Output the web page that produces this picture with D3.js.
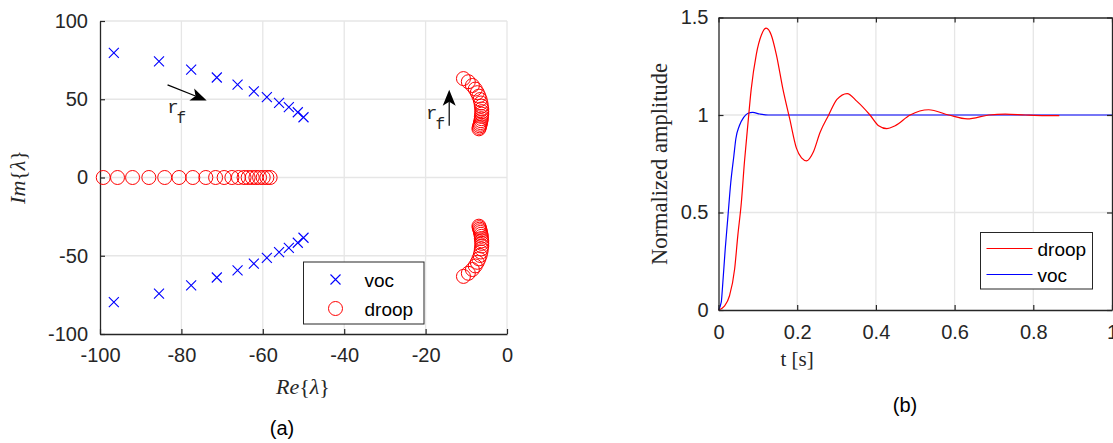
<!DOCTYPE html>
<html>
<head>
<meta charset="utf-8">
<script src="https://cdn.jsdelivr.net/npm/d3@7"></script>
<style>
	body { margin: 0; background: #fff; }
	svg { display: block; }
	.tick text { font-family: "Liberation Sans", Arial, sans-serif; font-size: 20px; fill: #262626; }
</style>
</head>
<body>
<div id="chartDiv"></div>
<script>
// ---- data (a): eigenvalues ----
var vocRe = [-96.6, -85.5, -77.6, -71.3, -66.2, -62.2, -59.0, -56.0, -53.6, -51.4, -50.0];
var vocIm = [79.7, 74.2, 69.0, 63.9, 59.4, 55.1, 51.3, 47.7, 44.9, 41.7, 38.5];

var droopRealRe = [-99.2, -95.7, -92.0, -88.0, -84.1, -80.6, -77.2, -74.0, -71.6, -69.5,
	-67.6, -66.0, -64.6, -63.6, -62.6, -61.7, -60.8, -59.9, -59.0, -58.2];

var droopCplxRe = [-10.7, -9.5, -8.5, -7.8, -7.3, -6.9, -6.6, -6.4, -6.3, -6.2,
	-6.2, -6.2, -6.3, -6.3, -6.4, -6.5, -6.6, -6.7, -6.8, -6.9];
var droopCplxIm = [63.2, 61.2, 58.8, 56.5, 54.2, 52.0, 49.8, 47.6, 45.6, 43.8,
	42.1, 40.5, 39.0, 37.6, 36.3, 35.1, 34.0, 33.0, 32.0, 31.1];

var xTicksA = [-100, -80, -60, -40, -20, 0];
var yTicksA = [-100, -50, 0, 50, 100];

// ---- data (b): step responses ----
var droopT = [0, 0.015, 0.028, 0.041, 0.049, 0.058, 0.066, 0.075, 0.083, 0.096, 0.109, 0.121,
	0.134, 0.147, 0.164, 0.181, 0.198, 0.211, 0.224, 0.241, 0.258, 0.28, 0.301, 0.327, 0.352,
	0.385, 0.407, 0.428, 0.449, 0.487, 0.534, 0.585, 0.632, 0.687, 0.729, 0.78, 0.83, 0.866];
var droopY = [0, 0.02, 0.073, 0.21, 0.38, 0.55, 0.76, 0.96, 1.13, 1.31, 1.41, 1.445,
	1.41, 1.31, 1.13, 0.98, 0.83, 0.78, 0.765, 0.81, 0.91, 1.0, 1.08, 1.11, 1.07,
	1.0, 0.945, 0.93, 0.945, 1.0, 1.027, 1.0, 0.98, 1.0, 1.005, 1.0, 0.997, 0.997];

var vocT = [0, 0.007, 0.011, 0.017, 0.024, 0.031, 0.039, 0.044, 0.053, 0.064, 0.074, 0.087, 0.105, 0.126, 1.0];
var vocY = [0, 0.04, 0.14, 0.31, 0.48, 0.65, 0.79, 0.877, 0.945, 0.988, 1.008, 1.013, 1.005, 1.0, 1.0];

var xTicksB = [0, 0.2, 0.4, 0.6, 0.8, 1];
var yTicksB = [0, 0.5, 1, 1.5];

var axisColor = "#262626";
var gridColor = "#e6e6e6";
var sans = "'Liberation Sans', Arial, sans-serif";
var serif = "'Liberation Serif', 'Times New Roman', serif";
var mono = "'Liberation Mono', 'Courier New', monospace";

// plain hyphen minus like the original
var plain = function(d) { return String(d); };

var svg = d3.select("#chartDiv").append("svg")
	.attr("width", 1113)
	.attr("height", 443);

svg.append("rect").attr("width", 1113).attr("height", 443).attr("fill", "#fff");

// ================= (a) =================
var xA = d3.scaleLinear().domain([-100, 0]).range([100, 507]);
var yA = d3.scaleLinear().domain([-100, 100]).range([334, 21]);

var gA = svg.append("g");

// grid
gA.selectAll(".vgrid").data(xTicksA.slice(1)).enter().append("line")
	.attr("x1", d => xA(d)).attr("x2", d => xA(d))
	.attr("y1", yA(-100)).attr("y2", yA(100))
	.attr("stroke", gridColor).attr("stroke-width", 1.3);
gA.selectAll(".hgrid").data(yTicksA.slice(1)).enter().append("line")
	.attr("x1", xA(-100)).attr("x2", xA(0))
	.attr("y1", d => yA(d)).attr("y2", d => yA(d))
	.attr("stroke", gridColor).attr("stroke-width", 1.3);

// axes
var xAxisA = d3.axisBottom(xA).tickValues(xTicksA).tickFormat(plain).tickSizeInner(-5).tickSizeOuter(0).tickPadding(14);
var yAxisA = d3.axisLeft(yA).tickValues(yTicksA).tickFormat(plain).tickSizeInner(-5).tickSizeOuter(0).tickPadding(12);

gA.append("g").attr("transform", "translate(0," + yA(-100) + ")").call(xAxisA);
gA.append("g").attr("transform", "translate(" + xA(-100) + ",0)").call(yAxisA);

// droop circles
var droopPts = [];
droopRealRe.forEach(function(r) { droopPts.push([r, 0]); });
droopCplxRe.forEach(function(r, i) {
	droopPts.push([r, droopCplxIm[i]]);
	droopPts.push([r, -droopCplxIm[i]]);
});
gA.selectAll(".droop").data(droopPts).enter().append("circle")
	.attr("cx", d => xA(d[0]))
	.attr("cy", d => yA(d[1]))
	.attr("r", 7)
	.attr("fill", "none")
	.attr("stroke", "#ff0000")
	.attr("stroke-width", 1);

// voc crosses
var vocPts = [];
vocRe.forEach(function(r, i) {
	vocPts.push([r, vocIm[i]]);
	vocPts.push([r, -vocIm[i]]);
});
var cross = function(sel, s) {
	sel.append("path")
		.attr("d", "M" + (-s) + "," + (-s) + "L" + s + "," + s + "M" + (-s) + "," + s + "L" + s + "," + (-s))
		.attr("stroke", "#0000ff")
		.attr("stroke-width", 1.1)
		.attr("fill", "none");
};
gA.selectAll(".voc").data(vocPts).enter().append("g")
	.attr("transform", d => "translate(" + xA(d[0]) + "," + yA(d[1]) + ")")
	.each(function() { cross(d3.select(this), 5); });

// arrows (annotation)
function arrow(g, x0, y0, x1, y1) {
	var dx = x1 - x0, dy = y1 - y0;
	var len = Math.sqrt(dx * dx + dy * dy);
	var ux = dx / len, uy = dy / len;
	var px = -uy, py = ux;
	var hl = 16, hw = 6.5, notch = 4;
	var bx = x1 - ux * hl, by = y1 - uy * hl;
	g.append("line")
		.attr("x1", x0).attr("y1", y0)
		.attr("x2", bx + ux * notch).attr("y2", by + uy * notch)
		.attr("stroke", "#000").attr("stroke-width", 1.2);
	g.append("path")
		.attr("d", "M" + x1 + "," + y1 +
			"L" + (bx + px * hw) + "," + (by + py * hw) +
			"L" + (bx + ux * notch) + "," + (by + uy * notch) +
			"L" + (bx - px * hw) + "," + (by - py * hw) + "Z")
		.attr("fill", "#000");
}
arrow(gA, xA(-83.4), yA(59.2), xA(-73.8), yA(49.2));
arrow(gA, xA(-14.2), yA(33.1), xA(-14.2), yA(56.0));

function rf(g, x, y) {
	var t = g.append("text").attr("x", x).attr("y", y)
		.attr("font-family", mono).attr("font-size", "19px").attr("fill", "#262626");
	t.append("tspan").text("r");
	t.append("tspan").attr("dx", -2).attr("dy", 10).attr("font-size", "16px").text("f");
}
rf(gA, xA(-83.5), yA(41));
rf(gA, xA(-19.9), yA(37.5));

// legend (a)
var legA = gA.append("g").attr("transform", "translate(303.5,262)");
legA.append("rect").attr("width", 120.5).attr("height", 62)
	.attr("fill", "#fff").attr("stroke", axisColor).attr("stroke-width", 1);
legA.append("g").attr("transform", "translate(32,17.5)").each(function() { cross(d3.select(this), 5); });
legA.append("circle").attr("cx", 32).attr("cy", 46.5).attr("r", 7)
	.attr("fill", "none").attr("stroke", "#ff0000");
legA.append("text").attr("x", 61).attr("y", 24.5).attr("font-family", sans).attr("font-size", "19px")
	.attr("fill", "#000").text("voc");
legA.append("text").attr("x", 61).attr("y", 53.5).attr("font-family", sans).attr("font-size", "19px")
	.attr("fill", "#000").text("droop");

// axis labels (a)
var reLab = gA.append("text").attr("x", 303).attr("y", 394).attr("text-anchor", "middle")
	.attr("font-family", serif).attr("font-size", "22px").attr("fill", "#262626");
reLab.append("tspan").attr("font-style", "italic").text("Re");
reLab.append("tspan").text("{");
reLab.append("tspan").attr("font-style", "italic").text("λ");
reLab.append("tspan").text("}");

var imLab = gA.append("text").attr("transform", "translate(25,177) rotate(-90)").attr("text-anchor", "middle")
	.attr("font-family", serif).attr("font-size", "22px").attr("fill", "#262626");
imLab.append("tspan").attr("font-style", "italic").text("Im");
imLab.append("tspan").text("{");
imLab.append("tspan").attr("font-style", "italic").text("λ");
imLab.append("tspan").text("}");

svg.append("text").attr("x", 282).attr("y", 435).attr("text-anchor", "middle")
	.attr("font-family", sans).attr("font-size", "20px").attr("fill", "#000").text("(a)");

// ================= (b) =================
var xB = d3.scaleLinear().domain([0, 1]).range([718.5, 1112]);
var yB = d3.scaleLinear().domain([0, 1.5]).range([310, 17.5]);

var gB = svg.append("g");

gB.selectAll(".vgrid").data(xTicksB.slice(1, -1)).enter().append("line")
	.attr("x1", d => xB(d)).attr("x2", d => xB(d))
	.attr("y1", yB(0)).attr("y2", yB(1.5))
	.attr("stroke", gridColor).attr("stroke-width", 1.3);
gB.selectAll(".hgrid").data(yTicksB.slice(1, -1)).enter().append("line")
	.attr("x1", xB(0)).attr("x2", xB(1))
	.attr("y1", d => yB(d)).attr("y2", d => yB(d))
	.attr("stroke", gridColor).attr("stroke-width", 1.3);

var line = d3.line().x(d => xB(d[0])).y(d => yB(d[1])).curve(d3.curveMonotoneX);

gB.append("path")
	.datum(vocT.map((t, i) => [t, vocY[i]]))
	.attr("d", line)
	.attr("fill", "none").attr("stroke", "#0000ff").attr("stroke-width", 1.2);
gB.append("path")
	.datum(droopT.map((t, i) => [t, droopY[i]]))
	.attr("d", line)
	.attr("fill", "none").attr("stroke", "#ff0000").attr("stroke-width", 1.2);

var xAxisB = d3.axisBottom(xB).tickValues(xTicksB).tickFormat(plain).tickSizeInner(-5).tickSizeOuter(0).tickPadding(15);
var yAxisB = d3.axisLeft(yB).tickValues(yTicksB).tickFormat(plain).tickSizeInner(-5).tickSizeOuter(0).tickPadding(10);
gB.append("g").attr("transform", "translate(0," + yB(0) + ")").call(xAxisB);
gB.append("g").attr("transform", "translate(" + xB(0) + ",0)").call(yAxisB);
gB.append("g").attr("transform", "translate(0," + yB(1.5) + ")")
	.call(d3.axisTop(xB).tickValues(xTicksB).tickFormat("").tickSizeInner(-5).tickSizeOuter(0));
gB.append("g").attr("transform", "translate(" + xB(1) + ",0)")
	.call(d3.axisRight(yB).tickValues(yTicksB).tickFormat("").tickSizeInner(-5).tickSizeOuter(0));

// legend (b)
var legB = gB.append("g").attr("transform", "translate(980.5,232.5)");
legB.append("rect").attr("width", 112).attr("height", 56.5)
	.attr("fill", "#fff").attr("stroke", axisColor).attr("stroke-width", 1);
legB.append("line").attr("x1", 6).attr("x2", 52).attr("y1", 16).attr("y2", 16)
	.attr("stroke", "#ff0000").attr("stroke-width", 1.2);
legB.append("line").attr("x1", 6).attr("x2", 52).attr("y1", 42).attr("y2", 42)
	.attr("stroke", "#0000ff").attr("stroke-width", 1.2);
legB.append("text").attr("x", 57).attr("y", 23).attr("font-family", sans).attr("font-size", "19px")
	.attr("fill", "#000").text("droop");
legB.append("text").attr("x", 57).attr("y", 49).attr("font-family", sans).attr("font-size", "19px")
	.attr("fill", "#000").text("voc");

gB.append("text").attr("x", 797).attr("y", 366).attr("text-anchor", "middle")
	.attr("font-family", serif).attr("font-size", "21px").attr("fill", "#262626").text("t [s]");
gB.append("text").attr("transform", "translate(667,164) rotate(-90)").attr("text-anchor", "middle")
	.attr("font-family", serif).attr("font-size", "22.5px").attr("fill", "#262626").text("Normalized amplitude");

svg.append("text").attr("x", 905).attr("y", 412).attr("text-anchor", "middle")
	.attr("font-family", sans).attr("font-size", "20px").attr("fill", "#000").text("(b)");

// axis styling
svg.selectAll(".domain").attr("stroke", axisColor).attr("stroke-width", 1.3);
svg.selectAll(".tick line").attr("stroke", axisColor).attr("stroke-width", 1.2);
</script>
</body>
</html>
